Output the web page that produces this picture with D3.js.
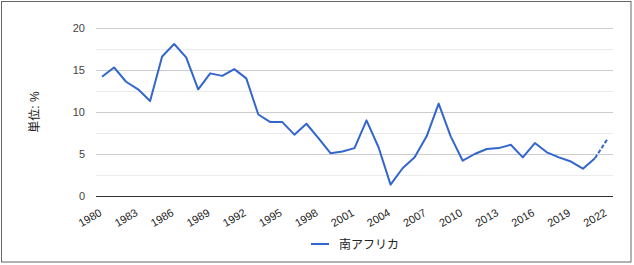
<!DOCTYPE html>
<html>
<head>
<meta charset="utf-8">
<script src="https://cdn.jsdelivr.net/npm/d3@7"></script>
<style>
  body { margin: 0; background: #fff; }
  text { font-family: Arial, "Liberation Sans", "Noto Sans CJK JP", sans-serif; }
</style>
</head>
<body>
<div id="canvas"></div>
<script>
"use strict"

let svgWidth = 634
let svgHeight = 265

/* data */
let years = d3.range(1980, 2023)
let values = [14.2, 15.3, 13.6, 12.7, 11.3, 16.6, 18.1, 16.5, 12.7, 14.6,
              14.3, 15.1, 14.0, 9.7, 8.8, 8.8, 7.3, 8.6, 6.9, 5.1,
              5.3, 5.7, 9.0, 5.8, 1.35, 3.3, 4.6, 7.1, 11.0, 7.1,
              4.2, 5.0, 5.6, 5.7, 6.1, 4.6, 6.3, 5.2, 4.6, 4.1,
              3.25, 4.5, 6.7]
let forecastFrom = 2021
let yTicks = [0, 5, 10, 15, 20]
let yMinor = [2.5, 7.5, 12.5, 17.5]
let xTickYears = d3.range(1980, 2023, 3)
let seriesName = "南アフリカ"
let axisTitle = "単位: %"

let data = years.map((y, i) => ({year: y, value: values[i]}))

let svg = d3.select("#canvas")
  .append("svg")
  .attr("width", svgWidth)
  .attr("height", svgHeight)

/* outer frame */
svg.append("rect")
  .attr("x", 1.5).attr("y", 1.5)
  .attr("width", 629.5).attr("height", 260.5)
  .attr("fill", "#fff")
  .attr("stroke", "#666")

let plotLeft = 96, plotRight = 613, plotTop = 28, plotBottom = 196

let xScale = d3.scalePoint()
  .domain(years)
  .range([plotLeft, plotRight])
  .padding(0.5)

let yScale = d3.scaleLinear()
  .domain([0, 20])
  .range([plotBottom, plotTop])

/* gridlines */
svg.selectAll(".minor")
  .data(yMinor)
  .join("line")
  .attr("x1", plotLeft).attr("x2", plotRight)
  .attr("y1", d => Math.round(yScale(d)) + 0.5)
  .attr("y2", d => Math.round(yScale(d)) + 0.5)
  .attr("stroke", "#ebebeb")

svg.selectAll(".major")
  .data(yTicks.filter(d => d != 0))
  .join("line")
  .attr("x1", plotLeft).attr("x2", plotRight)
  .attr("y1", d => Math.round(yScale(d)) + 0.5)
  .attr("y2", d => Math.round(yScale(d)) + 0.5)
  .attr("stroke", "#cccccc")

/* y tick labels */
svg.selectAll(".ylab")
  .data(yTicks)
  .join("text")
  .attr("x", plotLeft - 11)
  .attr("y", d => yScale(d) + 4)
  .attr("text-anchor", "end")
  .attr("font-size", 11)
  .attr("fill", "#444")
  .text(d => d)

/* y axis title */
svg.append("text")
  .attr("transform", "translate(39," + (plotTop + plotBottom) / 2 + ") rotate(-90)")
  .attr("text-anchor", "middle")
  .attr("font-size", 12)
  .attr("fill", "#222")
  .text(axisTitle)

/* x tick labels */
svg.selectAll(".xlab")
  .data(xTickYears)
  .join("text")
  .attr("transform", d => "translate(" + (xScale(d) + 0.5) + "," + (plotBottom + 19) + ") rotate(-30)")
  .attr("text-anchor", "end")
  .attr("font-size", 11)
  .attr("fill", "#222")
  .text(d => d)

/* line */
let line = d3.line()
  .x(d => xScale(d.year))
  .y(d => yScale(d.value))

svg.append("path")
  .datum(data.filter(d => d.year <= forecastFrom))
  .attr("d", line)
  .attr("fill", "none")
  .attr("stroke", "#3366cc")
  .attr("stroke-width", 2)
  .attr("stroke-linejoin", "round")

svg.append("path")
  .datum(data.filter(d => d.year >= forecastFrom))
  .attr("d", line)
  .attr("fill", "none")
  .attr("stroke", "#3366cc")
  .attr("stroke-width", 2)
  .attr("stroke-dasharray", "4,2")

/* zero baseline */
svg.append("line")
  .attr("x1", plotLeft).attr("x2", plotRight)
  .attr("y1", plotBottom + 0.5).attr("y2", plotBottom + 0.5)
  .attr("stroke", "#333")

/* legend */
svg.append("line")
  .attr("x1", 311).attr("x2", 329)
  .attr("y1", 244).attr("y2", 244)
  .attr("stroke", "#3366cc")
  .attr("stroke-width", 2)

svg.append("text")
  .attr("x", 339)
  .attr("y", 248.5)
  .attr("font-size", 12)
  .attr("fill", "#222")
  .text(seriesName)
</script>
</body>
</html>
